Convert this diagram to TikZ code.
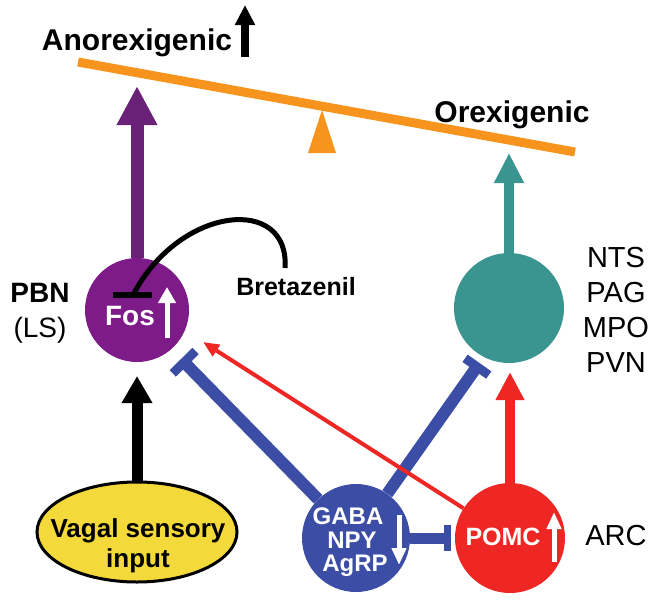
\documentclass[tikz,border=0pt]{standalone}
\usepackage{fontspec}
\setmainfont{Liberation Sans}
\usetikzlibrary{arrows.meta,shapes.geometric}
\definecolor{seeorange}{HTML}{F7941D}
\definecolor{purplearr}{HTML}{6A2177}
\definecolor{purplecell}{HTML}{7D1B88}
\definecolor{tealc}{HTML}{3A9490}
\definecolor{redc}{HTML}{EE2724}
\definecolor{bluec}{HTML}{3B4DA5}
\definecolor{yellowc}{HTML}{F4D93A}
\newcommand\myfs[1]{\fontsize{#1}{#1}\selectfont}
\begin{document}
\begin{tikzpicture}[x=1pt,y=-1pt,
  cell/.style={circle,inner sep=0pt,minimum size=108pt},
  lbl/.style={anchor=base,inner sep=0pt},
  wlbl/.style={anchor=base,inner sep=0pt,text=white,font=\bfseries\myfs{24}},
  whitearr/.style={white,line width=5pt,-{Triangle[width=16pt,length=16pt]}},
  inhib/.style={bluec,line width=12pt,-{Rectangle[width=32pt,length=9pt]}}
]
\useasboundingbox (0,0) rectangle (661,600);

% seesaw
\fill[seeorange] (322,110) -- (336,153) -- (308,153) -- cycle;
\coordinate (barL) at (78,62);
\coordinate (barR) at (575,152);
\draw[seeorange,line width=9pt] (barL) -- (barR);

% top labels
\node[lbl,font=\bfseries\myfs{30}] (anorex) at (137,50) {Anorexigenic};
\node[lbl,font=\bfseries\myfs{30}] (orex) at (512,122) {Orexigenic};
\coordinate (upS) at (245,57);
\coordinate (upT) at (245,5);
\draw[black,line width=8pt,-{Triangle[width=19pt,length=20pt]}] (upS) -- (upT);

% cells
\node[cell,fill=purplecell,minimum size=104pt] (pbn) at (137,310) {};
\node[cell,fill=tealc,minimum size=110pt] (tgt) at (509,308) {};
\node[cell,fill=bluec,minimum size=108pt] (gaba) at (356,538) {};
\node[cell,fill=redc,minimum size=110pt] (pomc) at (510,538) {};
\node[ellipse,draw=black,line width=3pt,fill=yellowc,minimum width=200pt,minimum height=100pt,inner sep=0pt] (vagal) at (137,532) {};

% output arrows
\coordinate (antip) at (137,86);
\draw[purplearr,line width=13pt,-{Triangle[width=38pt,length=39pt]}] (pbn) -- (antip);
\coordinate (orextip) at (509,153);
\draw[tealc,line width=10pt,-{Triangle[width=28pt,length=30pt]}] (tgt) -- (orextip);

% inputs
\coordinate (vagtip) at (137,376);
\draw[black,line width=11pt,-{Triangle[width=29pt,length=27pt]}] (vagal) -- (vagtip);
\coordinate (pomctip) at (510,372);
\draw[redc,line width=10pt,-{Triangle[width=27pt,length=28pt]}] (pomc) -- (pomctip);

% inhibitions
\coordinate (tpbn) at (181,359);
\draw[inhib] (gaba) -- (tpbn);
\coordinate (ttgt) at (479.5,363);
\draw[inhib,-{Rectangle[width=29pt,length=9pt]}] (gaba) -- (ttgt);
\coordinate (tpomc) at (451,538);
\draw[bluec,line width=11pt,-{Rectangle[width=26pt,length=7pt]}] (gaba) -- (tpomc);

% POMC -> PBN thin arrow (over the blue lines)
\coordinate (redtip) at (203,342);
\draw[redc,line width=4pt,-{Triangle[width=13pt,length=16pt]}] (pomc) -- (redtip);

% Bretazenil
\node[lbl,font=\bfseries\myfs{25}] (bret) at (296,295) {Bretazenil};
\coordinate (bretS) at (285,268);
\coordinate (bretE) at (133,295);
\coordinate (tbarL) at (113,295);
\coordinate (tbarR) at (152,295);
\draw[black,line width=5pt] (bretS) .. controls (290,195) and (180,205) .. (bretE);
\draw[black,line width=6pt] (tbarL) -- (tbarR);

% cell texts
\node[lbl,text=white,font=\bfseries\myfs{28}] (fos) at (130,325) {Fos};
\coordinate (fosA) at (167,338);
\coordinate (fosB) at (167,287);
\draw[whitearr,-{Triangle[width=17pt,length=16pt]}] (fosA) -- (fosB);
\node[wlbl] (gt1) at (348,524) {GABA};
\node[wlbl] (gt2) at (352,548) {NPY};
\node[wlbl] (gt3) at (355,571) {AgRP};
\coordinate (gA) at (399,515);
\coordinate (gB) at (399,565);
\draw[whitearr,-{Triangle[width=14pt,length=17pt]}] (gA) -- (gB);
\node[lbl,text=white,font=\bfseries\myfs{25}] (pt) at (503,545) {POMC};
\coordinate (pA) at (554,562);
\coordinate (pB) at (554,512);
\draw[whitearr,-{Triangle[width=14pt,length=17pt]}] (pA) -- (pB);

% region labels
\node[lbl,font=\bfseries\myfs{28}] (pbnl) at (40,302) {PBN};
\node[lbl,font=\myfs{28}] (lsl) at (40,337) {(LS)};
\node[lbl,font=\myfs{29}] (r1) at (616,267) {NTS};
\node[lbl,font=\myfs{29}] (r2) at (616,302) {PAG};
\node[lbl,font=\myfs{29}] (r3) at (616,337) {MPO};
\node[lbl,font=\myfs{29}] (r4) at (616,372) {PVN};
\node[lbl,font=\myfs{29}] (arc) at (616,545) {ARC};
\node[lbl,font=\bfseries\myfs{26}] (v1) at (138,537) {Vagal sensory};
\node[lbl,font=\bfseries\myfs{26}] (v2) at (138,567) {input};
\end{tikzpicture}
\end{document}
